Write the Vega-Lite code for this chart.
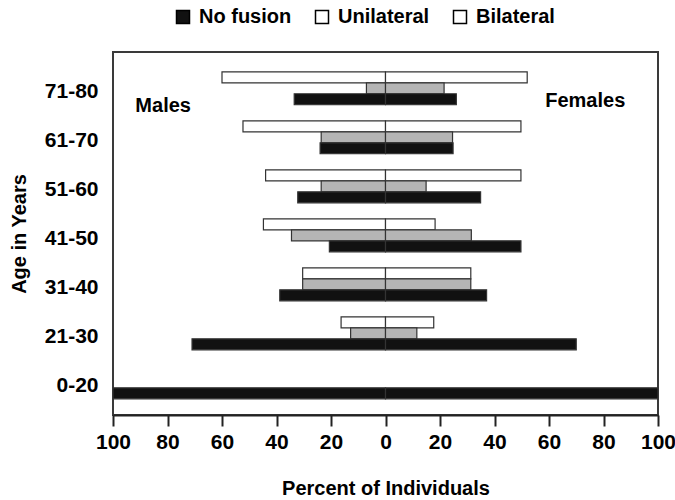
{
  "$schema": "https://vega.github.io/schema/vega-lite/v6.json",
  "width": 545,
  "height": 363,
  "autosize": {"type": "none"},
  "padding": {"left": 113, "top": 52, "right": 17, "bottom": 85},
  "config": {
    "font": "Liberation Sans",
    "view": {"stroke": "#3a3a3a", "strokeWidth": 2}
  },
  "datasets": {
    "bars": [
      {"age": "71-80", "sex": "Males", "type": "Bilateral", "pct": 60},
      {"age": "71-80", "sex": "Males", "type": "Unilateral", "pct": 7},
      {"age": "71-80", "sex": "Males", "type": "No fusion", "pct": 33.5},
      {"age": "71-80", "sex": "Females", "type": "Bilateral", "pct": 52},
      {"age": "71-80", "sex": "Females", "type": "Unilateral", "pct": 21.5},
      {"age": "71-80", "sex": "Females", "type": "No fusion", "pct": 26},
      {"age": "61-70", "sex": "Males", "type": "Bilateral", "pct": 52.3},
      {"age": "61-70", "sex": "Males", "type": "Unilateral", "pct": 23.6},
      {"age": "61-70", "sex": "Males", "type": "No fusion", "pct": 24},
      {"age": "61-70", "sex": "Females", "type": "Bilateral", "pct": 49.7},
      {"age": "61-70", "sex": "Females", "type": "Unilateral", "pct": 24.6},
      {"age": "61-70", "sex": "Females", "type": "No fusion", "pct": 24.8},
      {"age": "51-60", "sex": "Males", "type": "Bilateral", "pct": 44},
      {"age": "51-60", "sex": "Males", "type": "Unilateral", "pct": 23.6},
      {"age": "51-60", "sex": "Males", "type": "No fusion", "pct": 32.2},
      {"age": "51-60", "sex": "Females", "type": "Bilateral", "pct": 49.7},
      {"age": "51-60", "sex": "Females", "type": "Unilateral", "pct": 14.9},
      {"age": "51-60", "sex": "Females", "type": "No fusion", "pct": 34.9},
      {"age": "41-50", "sex": "Males", "type": "Bilateral", "pct": 44.8},
      {"age": "41-50", "sex": "Males", "type": "Unilateral", "pct": 34.5},
      {"age": "41-50", "sex": "Males", "type": "No fusion", "pct": 20.6},
      {"age": "41-50", "sex": "Females", "type": "Bilateral", "pct": 18.2},
      {"age": "41-50", "sex": "Females", "type": "Unilateral", "pct": 31.5},
      {"age": "41-50", "sex": "Females", "type": "No fusion", "pct": 49.7},
      {"age": "31-40", "sex": "Males", "type": "Bilateral", "pct": 30.4},
      {"age": "31-40", "sex": "Males", "type": "Unilateral", "pct": 30.4},
      {"age": "31-40", "sex": "Males", "type": "No fusion", "pct": 38.8},
      {"age": "31-40", "sex": "Females", "type": "Bilateral", "pct": 31.3},
      {"age": "31-40", "sex": "Females", "type": "Unilateral", "pct": 31.3},
      {"age": "31-40", "sex": "Females", "type": "No fusion", "pct": 37.1},
      {"age": "21-30", "sex": "Males", "type": "Bilateral", "pct": 16.3},
      {"age": "21-30", "sex": "Males", "type": "Unilateral", "pct": 12.8},
      {"age": "21-30", "sex": "Males", "type": "No fusion", "pct": 71},
      {"age": "21-30", "sex": "Females", "type": "Bilateral", "pct": 17.7},
      {"age": "21-30", "sex": "Females", "type": "Unilateral", "pct": 11.5},
      {"age": "21-30", "sex": "Females", "type": "No fusion", "pct": 70},
      {"age": "0-20", "sex": "Males", "type": "No fusion", "pct": 100},
      {"age": "0-20", "sex": "Females", "type": "No fusion", "pct": 100}
    ],
    "males": [{"label": "Males", "age": "71-80", "pos": -81.6}],
    "females": [{"label": "Females", "age": "71-80", "pos": 73.3}]
  },
  "layer": [
    {
      "data": {"name": "bars"},
      "transform": [
        {"calculate": "datum.sex === 'Males' ? -datum.pct : datum.pct", "as": "value"}
      ],
      "mark": {"type": "bar", "stroke": "#333333", "strokeWidth": 1.2},
      "encoding": {
        "y": {
          "field": "age",
          "type": "nominal",
          "sort": ["71-80", "61-70", "51-60", "41-50", "31-40", "21-30", "0-20"],
          "scale": {
            "domain": ["71-80", "61-70", "51-60", "41-50", "31-40", "21-30", "0-20"],
            "paddingInner": 0.327, "paddingOuter": 0.367, "align": 0.55
          },
          "axis": {
            "title": "Age in Years",
            "ticks": false,
            "domain": false,
            "labelFontSize": 21,
            "labelFontWeight": "bold",
            "labelColor": "#000000",
            "labelPadding": 15,
            "labelOffset": 4,
            "titleFontSize": 20,
            "titleFontWeight": "bold",
            "titleColor": "#000000",
            "titlePadding": 15
          }
        },
        "yOffset": {
          "field": "type",
          "sort": ["Bilateral", "Unilateral", "No fusion"],
          "scale": {"paddingInner": 0, "paddingOuter": 0}
        },
        "x": {
          "field": "value",
          "type": "quantitative",
          "scale": {"domain": [-100, 100], "nice": false},
          "axis": {
            "values": [-100, -80, -60, -40, -20, 0, 20, 40, 60, 80, 100],
            "labelExpr": "abs(datum.value)",
            "title": "Percent of Individuals",
            "grid": false,
            "tickSize": 11,
            "tickWidth": 2,
            "tickColor": "#222222",
            "domainColor": "#222222",
            "domainWidth": 2,
            "labelFontSize": 21,
            "labelFontWeight": "bold",
            "labelColor": "#000000",
            "labelPadding": 5,
            "labelFlush": false,
            "titleFontSize": 20,
            "titleFontWeight": "bold",
            "titleColor": "#000000",
            "titlePadding": 26
          }
        },
        "fill": {
          "field": "type",
          "type": "nominal",
          "sort": ["No fusion", "Unilateral", "Bilateral"],
          "scale": {"range": ["#111111", "#b5b5b5", "#ffffff"]},
          "legend": null
        }
      }
    },
    {
      "data": {"name": "bars"},
      "transform": [
        {"calculate": "datum.sex === 'Males' ? -datum.pct : datum.pct", "as": "value"}
      ],
      "mark": {"type": "point", "filled": true, "opacity": 0, "size": 1},
      "encoding": {
        "y": {"field": "age", "type": "nominal", "sort": ["71-80", "61-70", "51-60", "41-50", "31-40", "21-30", "0-20"]},
        "x": {"field": "value", "type": "quantitative"},
        "color": {
          "field": "type",
          "type": "nominal",
          "scale": {
            "domain": ["No fusion", "Unilateral", "Bilateral"],
            "range": ["#111111", "#ffffff", "#ffffff"]
          },
          "legend": {
            "orient": "none",
            "legendX": 60,
            "legendY": -45,
            "direction": "horizontal",
            "columns": 3,
            "title": null,
            "padding": 0,
            "symbolType": "square",
            "symbolSize": 169,
            "symbolOpacity": 1,
            "symbolStrokeColor": "#000000",
            "symbolStrokeWidth": 1.5,
            "labelFontSize": 20,
            "labelFontWeight": "bold",
            "labelColor": "#000000",
            "labelOffset": 6,
            "columnPadding": 20
          }
        }
      }
    },
    {
      "mark": {"type": "rule", "color": "#222222", "strokeWidth": 2},
      "encoding": {"x": {"datum": 0}}
    },
    {
      "data": {"name": "males"},
      "mark": {"type": "text", "fontSize": 20, "fontWeight": "bold", "color": "#000000", "dy": 18, "baseline": "middle", "align": "center"},
      "encoding": {
        "x": {"field": "pos", "type": "quantitative"},
        "y": {"field": "age", "type": "nominal", "sort": ["71-80", "61-70", "51-60", "41-50", "31-40", "21-30", "0-20"]},
        "text": {"field": "label"}
      }
    },
    {
      "data": {"name": "females"},
      "mark": {"type": "text", "fontSize": 20, "fontWeight": "bold", "color": "#000000", "dy": 12.5, "baseline": "middle", "align": "center"},
      "encoding": {
        "x": {"field": "pos", "type": "quantitative"},
        "y": {"field": "age", "type": "nominal", "sort": ["71-80", "61-70", "51-60", "41-50", "31-40", "21-30", "0-20"]},
        "text": {"field": "label"}
      }
    }
  ]
}
